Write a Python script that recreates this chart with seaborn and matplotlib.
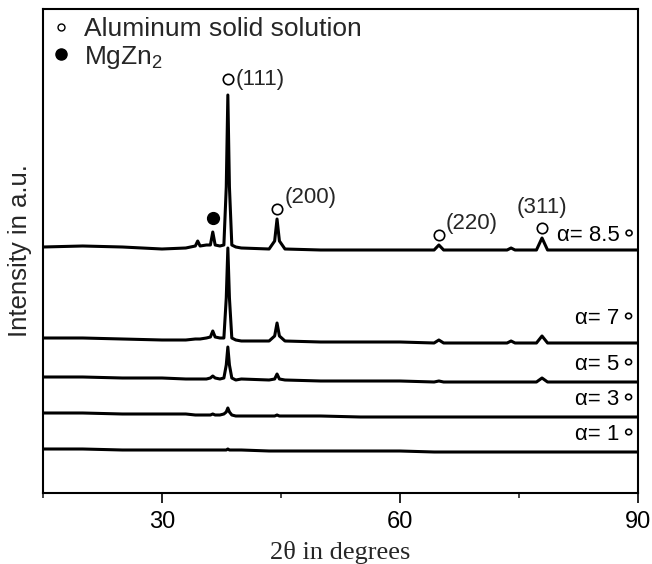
import numpy as np
import pandas as pd
import matplotlib
matplotlib.use("Agg")
import matplotlib.pyplot as plt
from matplotlib.lines import Line2D
from matplotlib.ticker import FixedLocator
import seaborn as sns


# -----------------------------
# Data (intensity in a.u., relative to each pattern's own baseline)
# -----------------------------
two_theta = [15, 20, 25, 30, 33, 34.2, 34.5, 34.8, 35.6, 36.1, 36.4, 36.7, 37.3, 37.8,
             38.1, 38.3, 38.5, 38.8, 39.3, 40, 43.5, 44.2, 44.5, 44.8, 45.5,
             50, 55, 60, 64.3, 64.9, 65.5, 70, 73.5, 74, 74.5, 77.2, 77.9, 78.6,
             80, 85, 90]

int_a85 = [0, 1, 0, -2, -1, 1, 6, 1, 2, 2, 15, 2, 1, 2,
           60, 152, 60, 2, 0, -1, -2, 6, 28, 6, -2,
           -3, -3, -3, -3, 2, -3, -3, -3, -1, -3, -3, 9, -3,
           -3, -3, -3]
int_a7 = [0, 0, -1, -2, -2, -1, -1, -1, 0, 1, 7, 1, 0, 0,
          40, 90, 40, 0, -2, -3, -3, 2, 15, 2, -3,
          -4, -4, -4, -5, -2, -5, -5, -5, -3, -5, -5, 2, -5,
          -5, -5, -5]
int_a5 = [0, 0, -1, -1, -2, -2, -2, -2, -2, -1, 1, -1, -2, -1,
          12, 30, 12, -1, -3, -2, -3, -2, 3, -2, -3,
          -4, -4, -4, -5, -4, -5, -5, -5, -5, -5, -5, -1, -5,
          -5, -5, -5]
int_a3 = [0, 0, -1, -1, -1, -2, -2, -2, -2, -2, -1, -2, -2, -1,
          1, 5, 1, -2, -3, -3, -3, -3, -2, -3, -3,
          -3, -4, -4, -4, -4, -4, -4, -4, -4, -4, -4, -4, -4,
          -4, -4, -4]
int_a1 = [0, 0, -1, -1, -1, -1, -1, -1, -1, -1, -1, -1, -1, -1,
          -1, 0, -1, -1, -1, -1, -2, -2, -2, -2, -2,
          -2, -2, -2, -3, -3, -3, -3, -3, -3, -3, -3, -3, -3,
          -3, -3, -3]

angles = ["8.5", "7", "5", "3", "1"]
patterns = [int_a85, int_a7, int_a5, int_a3, int_a1]
for p in patterns:
    assert len(p) == len(two_theta)

# peak annotations on the alpha = 8.5 pattern
al_peaks = [38.3, 44.5, 64.9, 77.9]
al_hkl = ["(111)", "(200)", "(220)", "(311)"]
mgzn2_peaks = [36.4]

# -----------------------------
# Layout / style
# -----------------------------
offsets = [246, 155, 116, 80, 44]          # vertical stacking of the patterns
label_gap = [4, 14, 7, 7, 7]               # gap between alpha label and its curve
marker_gap = [16, 10, 10, 10]
mgzn2_gap = 14

sns.set_theme(style="ticks")
plt.rcParams["font.family"] = ["Liberation Sans", "DejaVu Sans"]
plt.rcParams["mathtext.fontset"] = "custom"
plt.rcParams["mathtext.rm"] = "Liberation Sans"

fig = plt.figure(figsize=(6.52, 5.64), dpi=100)
ax = fig.add_axes([43 / 652, 71 / 564, 595 / 652, 484 / 564])

x = np.array(two_theta)
for ang, vals, off in zip(angles, patterns, offsets):
    df = pd.DataFrame({"two_theta": x, "intensity": np.array(vals) + off})
    sns.lineplot(data=df, x="two_theta", y="intensity", ax=ax, color="black",
                 linewidth=2.2, estimator=None, sort=False, legend=False)

# alpha labels
for ang, vals, off, gap in zip(angles, patterns, offsets, label_gap):
    ax.text(90.0, off + vals[-1] + gap, f"α= {ang}\u26ac", ha="right", va="bottom",
            fontsize=16, color="black")

# Al solid solution markers (open circles) + hkl labels
top = np.array(int_a85) + offsets[0]
for pk, hkl, gap in zip(al_peaks, al_hkl, marker_gap):
    ymark = np.interp(pk, x, top) + gap
    ax.plot(pk, ymark, marker="o", ms=7.5, mfc="white", mec="black", mew=1.2, ls="")
    if hkl == "(311)":
        ax.text(pk, ymark + 21, hkl, ha="center", va="center", fontsize=16)
    elif hkl == "(111)":
        ax.text(pk + 1.0, ymark, hkl, ha="left", va="center", fontsize=16)
    else:
        ax.text(pk + 0.9, ymark + 11, hkl, ha="left", va="center", fontsize=16)

for pk in mgzn2_peaks:
    ymark = np.interp(pk, x, top) + mgzn2_gap
    ax.plot(pk, ymark, marker="o", ms=8.5, color="black", ls="")

handles = [
    Line2D([], [], marker="o", ls="", ms=5, mfc="white", mec="black", mew=1.0),
    Line2D([], [], marker="o", ls="", ms=8, color="black"),
]
ax.legend(handles, ["Aluminum solid solution", "MgZn$_2$"], loc="upper left",
          bbox_to_anchor=(0, 1), borderaxespad=0, borderpad=0.3, frameon=False,
          fontsize=19, handlelength=0.8, handletextpad=0.45, labelspacing=0.1)

ax.set_xlim(15, 90)
ax.set_ylim(0, 484)
ax.xaxis.set_major_locator(FixedLocator([30, 60, 90]))
ax.xaxis.set_minor_locator(FixedLocator([15, 45, 75]))
ax.tick_params(axis="x", which="major", direction="out", length=7, width=1.2,
               labelsize=17, colors="black", pad=6)
ax.tick_params(axis="x", which="minor", direction="out", length=3.5, width=1.2)
ax.set_yticks([])
for sp in ax.spines.values():
    sp.set_visible(True)
    sp.set_color("black")
    sp.set_linewidth(1.5)

ax.set_xlabel("2θ in degrees", fontsize=19, family=["Liberation Serif", "DejaVu Serif"],
              labelpad=6)
ax.set_ylabel("Intensity in a.u.", fontsize=18.5, labelpad=8)

fig.savefig("out.png", dpi=100)
